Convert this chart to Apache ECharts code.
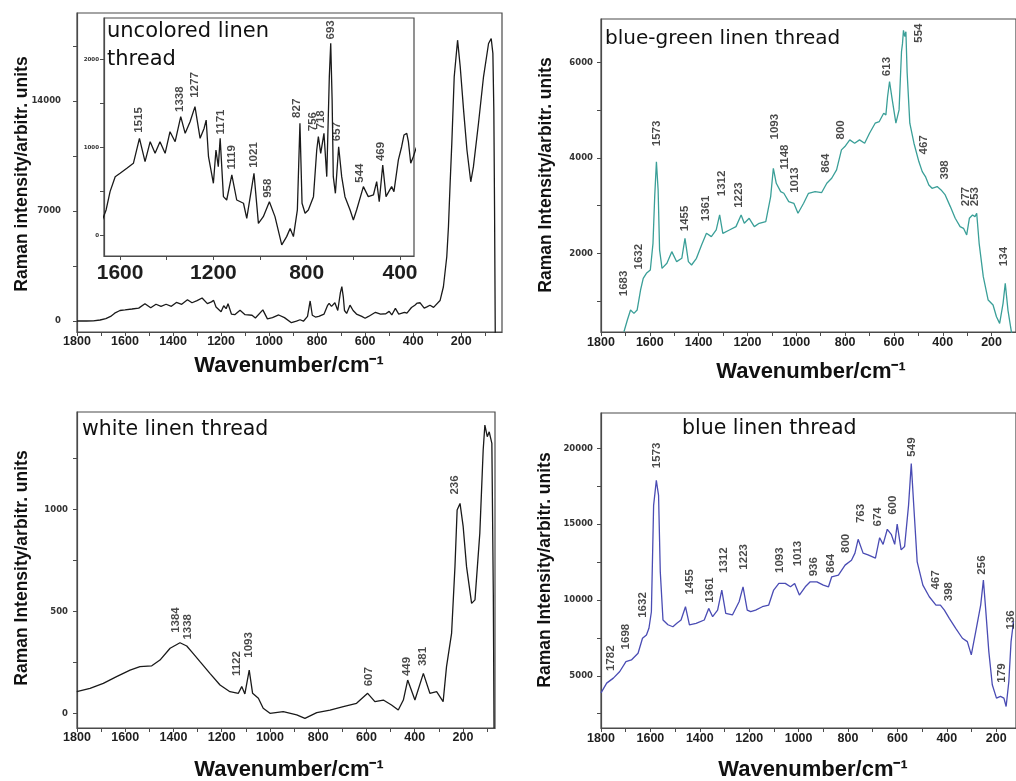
<!DOCTYPE html>
<html><head><meta charset="utf-8">
<script src="https://cdn.jsdelivr.net/npm/echarts@6/dist/echarts.min.js"></script>
<style>html,body{margin:0;padding:0;background:#fff}#c{width:1016px;height:781px}</style>
</head><body><div id="c"></div>
<script>
// ---------- uncolored linen thread (main + inset share the same spectrum) ----------
const uncoloredWn = [1800,1760,1732,1704,1680,1660,1643,1621,1600,1571,1543,1517,1493,1471,1450,1429,1407,1386,1364,1340,1321,1300,1279,1257,1240,1231,1221,1200,1189,1179,1171,1157,1143,1121,1100,1071,1057,1026,1007,986,960,936,907,886,871,857,840,829,820,807,793,771,757,750,740,726,714,703,697,691,686,677,663,650,636,614,600,586,557,536,514,500,489,474,460,436,426,407,393,383,371,364,354,343,330,315,288,274,260,253,246,239,229,215,204,190,176,160,149,128,107,86,75,68,64,61,58];
const uncoloredI  = [0,0,5,64,150,290,498,668,706,763,820,1103,839,1065,933,1065,933,1179,1065,1349,1160,1292,1463,1103,1216,1311,895,593,971,782,1103,441,403,687,403,366,195,706,138,214,384,214,-106,-13,80,-13,290,1274,366,252,290,441,971,1122,933,1160,668,1804,2183,1539,668,479,1008,668,441,290,176,290,555,441,460,612,384,801,441,555,498,858,1008,1141,1160,1065,820,895,1000,870,1300,2180,4090,6000,8760,11320,15540,17870,16180,13420,10880,8860,9820,12570,15540,17660,17980,17030,13420,7060,-1000];

// ---------- blue-green linen thread ----------
const blueGreenWn = [1706,1692,1679,1665,1652,1638,1627,1614,1598,1587,1580,1573,1566,1560,1550,1530,1510,1490,1469,1456,1442,1429,1409,1388,1368,1348,1328,1314,1301,1274,1247,1226,1213,1193,1172,1152,1125,1105,1094,1082,1064,1051,1031,1010,993,970,950,923,896,875,855,835,815,801,781,761,741,720,700,677,660,642,633,626,618,608,592,579,569,565,561,556,551,546,535,518,498,484,471,457,444,423,407,390,369,349,329,315,302,291,278,268,261,251,234,214,194,180,167,153,144,133,120,110];
const blueGreenI  = [355,600,810,740,810,1230,1475,1580,1650,2210,3190,3923,3330,2070,1685,1790,2035,1825,1895,2315,1825,1755,1895,2175,2420,2350,2490,2805,2420,2490,2560,2805,2630,2735,2560,2630,2665,3190,3785,3470,3295,3260,3085,3050,2840,3050,3260,3295,3275,3470,3575,3750,4170,4240,4380,4310,4380,4310,4520,4730,4765,4940,4905,5290,5605,5255,4730,5010,6235,6400,6680,6550,6650,5800,4730,4310,3925,3715,3610,3435,3365,3400,3330,3225,2980,2735,2560,2525,2385,2735,2805,2770,2840,2210,1510,1020,915,670,530,950,1370,810,390,100];

// ---------- white linen thread ----------
const whiteWn = [1801,1746,1691,1636,1580,1539,1490,1456,1414,1373,1345,1325,1290,1249,1207,1166,1131,1117,1104,1086,1072,1048,1028,1000,945,889,855,806,751,696,641,595,565,530,496,468,447,429,399,364,337,309,282,268,247,233,224,212,199,185,164,150,130,116,109,99,91,80,74,71];
const whiteI  = [106,122,147,180,212,229,233,261,319,346,330,302,253,196,139,106,98,131,95,212,98,74,25,0,8,-8,-25,3,16,33,49,98,57,65,41,16,65,163,65,196,98,106,57,229,392,719,997,1029,916,719,539,556,882,1291,1413,1356,1380,1323,588,-72];

// ---------- blue linen thread ----------
const blueWn = [1800,1795,1777,1750,1724,1699,1677,1650,1632,1616,1606,1596,1587,1576,1567,1560,1549,1529,1509,1493,1476,1458,1442,1415,1382,1364,1348,1328,1311,1295,1268,1241,1225,1208,1194,1174,1147,1121,1101,1080,1054,1033,1016,997,973,953,926,900,879,866,839,812,786,772,759,739,719,689,672,658,641,625,611,601,585,571,555,544,534,520,497,471,444,426,410,390,364,337,317,301,283,263,252,243,230,216,199,183,169,160,149,140,130];
const blueI  = [3880,3970,4520,4850,5285,5940,6050,6490,7480,7700,8135,9230,16250,17900,16910,11860,8685,8370,8240,8465,8685,9560,8370,8465,8685,9450,8905,9340,10660,9125,9015,9890,10875,9340,9235,9340,9560,9670,10660,11100,11100,10875,11100,10330,10875,11205,11205,10985,10875,11535,11640,12305,12630,13095,14010,13095,12985,12765,14115,13675,14670,14340,13675,15010,13310,13530,16250,19000,16250,12520,10985,10220,9670,9670,9340,8795,8135,7480,7260,6380,7920,9670,11315,9450,6600,4410,3530,3640,3530,2980,4630,7260,8600];

// ---------- peak annotations: [text, wavenumber, intensity at label foot] ----------
const peaksInset = [['1515',1517,1161],['1338',1340,1397],['1277',1279,1558],['1171',1168,1141],['1119',1117,744],['1021',1026,763],['958',964,422],['827',840,1330],['756',771,1179],['718',736,1198],['693',693,2221],['657',668,1065],['544',569,593],['469',479,839]];
const peaksBlueGreen = [['1683',1706,1090],['1632',1645,1650],['1573',1570,4238],['1455',1456,2453],['1361',1368,2663],['1312',1301,3188],['1223',1233,2944],['1093',1085,4378],['1148',1044,3748],['1013',1004,3259],['864',876,3679],['800',815,4378],['613',626,5707],['554',497,6408],['467',477,4063],['398',390,3539],['277',302,2978],['253',268,2978],['134',147,1720]];
const peaksWhite = [['1384',1390,392],['1338',1339,359],['1122',1136,180],['1093',1086,270],['607',586,130],['449',431,180],['381',365,229],['236',233,1070]];
const peaksBlue = [['1782',1757,5283],['1698',1697,6711],['1632',1627,8796],['1573',1570,18665],['1455',1439,10329],['1361',1359,9783],['1312',1301,11757],['1223',1221,11974],['1093',1074,11757],['1013',1000,12191],['936',937,11533],['864',866,11757],['800',806,13072],['763',745,15046],['674',678,14822],['600',618,15592],['549',538,19428],['467',444,10658],['398',390,9888],['256',256,11645],['179',176,4519],['136',138,8026]];

// ---------- tick values ----------
const xTicks100 = [100,200,300,400,500,600,700,800,900,1000,1100,1200,1300,1400,1500,1600,1700,1800];
const xLabels200 = [200,400,600,800,1000,1200,1400,1600,1800];
const insetXTicks = [400,600,800,1000,1200,1400,1600];
const insetXLabels = [400,800,1200,1600];
const yTicksA = [0,3500,7000,10500,14000,17500];
const yLabelsA = [0,7000,14000];
const yTicksInset = [0,500,1000,1500,2000];
const yLabelsInset = [0,1000,2000];
const yTicksB = [1000,2000,3000,4000,5000,6000];
const yLabelsB = [2000,4000,6000];
const yTicksC = [0,250,500,750,1000,1250];
const yLabelsC = [0,500,1000];
const yTicksD = [2500,5000,7500,10000,12500,15000,17500,20000];
const yLabelsD = [5000,10000,15000,20000];

const frame = '#4a4a4a';
const pairs = (xs, ys) => xs.map((x, i) => [x, ys[i]]);
const plain = v => String(v);

function xAx(gi, min, max, ticks, labels, fs, margin) {
  return {type:'value', gridIndex:gi, inverse:true, min, max,
    axisLine:{show:true, onZero:false, lineStyle:{color:frame, width:1.2}},
    axisTick:{show:true, inside:false, length:4, customValues:ticks, lineStyle:{color:frame, width:1}},
    axisLabel:{show:true, customValues:labels, formatter:plain, fontSize:fs, fontWeight:'bold', fontFamily:'Liberation Sans', color:'#1e1e1e', margin},
    splitLine:{show:false}};
}
function yAx(gi, min, max, ticks, labels, fs, margin) {
  return {type:'value', gridIndex:gi, min, max,
    axisLine:{show:true, onZero:false, lineStyle:{color:frame, width:1.2}},
    axisTick:{show:true, inside:false, length:4, customValues:ticks, lineStyle:{color:frame, width:1}},
    axisLabel:{show:true, customValues:labels, formatter:plain, fontSize:fs, fontWeight:'bold', fontFamily:'DejaVu Sans', color:'#333', margin},
    splitLine:{show:false}};
}
function lineS(i, data, color) {
  return {type:'line', xAxisIndex:i, yAxisIndex:i, data, showSymbol:false, symbol:'none', clip:true,
    lineStyle:{color, width:1.3}, silent:true, animation:false};
}
function peakS(i, arr) {
  return {type:'scatter', xAxisIndex:i, yAxisIndex:i, symbolSize:1, silent:true, clip:false, z:5, animation:false,
    itemStyle:{color:'rgba(0,0,0,0)'},
    data: arr.map(p => ({name:p[0], value:[p[1], p[2]]})),
    label:{show:true, formatter:'{b}', rotate:90, position:[0,0], align:'left', verticalAlign:'middle',
      fontSize:11.5, fontWeight:'bold', fontFamily:'Liberation Sans', color:'#1a1a1a'}};
}
function txt(x, y, text, font, rot, align) {
  return {type:'text', x, y, rotation:rot||0, z:100,
    style:{text, font, fill:'#111', align:align||'center', textAlign:align||'center', verticalAlign:'middle', textVerticalAlign:'middle'}};
}

const chart = echarts.init(document.getElementById('c'), null, {renderer:'canvas'});
chart.setOption({
  animation:false,
  backgroundColor:'#fff',
  grid:[
    {left:77, top:13, width:425, height:319, show:true, borderColor:frame, borderWidth:1.2, backgroundColor:'#fff'},
    {left:104, top:18, width:310, height:238, show:true, borderColor:frame, borderWidth:1.2, backgroundColor:'#fff', z:3},
    {left:601, top:19, width:419, height:313, show:true, borderColor:frame, borderWidth:1.2},
    {left:77, top:412, width:418, height:316, show:true, borderColor:frame, borderWidth:1.2},
    {left:601, top:413, width:418, height:315, show:true, borderColor:frame, borderWidth:1.2}
  ],
  xAxis:[
    xAx(0, 30, 1800, xTicks100, xLabels200, 12.5, 3),
    Object.assign(xAx(1, 340, 1669, insetXTicks, insetXLabels, 21, 7), {z:4}),
    xAx(2, 100, 1800, xTicks100, xLabels200, 12.5, 4),
    xAx(3, 67, 1800, xTicks100, xLabels200, 12.5, 3),
    xAx(4, 120, 1800, xTicks100, xLabels200, 12.5, 4)
  ],
  yAxis:[
    yAx(0, -700, 19600, yTicksA, yLabelsA, 8.5, 16),
    Object.assign(yAx(1, -233, 2470, yTicksInset, yLabelsInset, 5.5, 5), {z:4}),
    yAx(2, 349, 6917, yTicksB, yLabelsB, 8.5, 8),
    yAx(3, -72, 1477, yTicksC, yLabelsC, 8.5, 9),
    yAx(4, 1559, 22342, yTicksD, yLabelsD, 8.5, 8)
  ],
  series:[
    lineS(0, pairs(uncoloredWn, uncoloredI), '#1a1a1a'),
    Object.assign(lineS(1, pairs(uncoloredWn, uncoloredI), '#1a1a1a'), {z:6}),
    Object.assign(peakS(1, peaksInset), {z:7}),
    lineS(2, pairs(blueGreenWn, blueGreenI), '#3a9f98'),
    peakS(2, peaksBlueGreen),
    lineS(3, pairs(whiteWn, whiteI), '#1a1a1a'),
    peakS(3, peaksWhite),
    lineS(4, pairs(blueWn, blueI), '#4a4cb4'),
    peakS(4, peaksBlue)
  ],
  graphic:[
    txt(107, 32, 'uncolored linen', '21px "DejaVu Sans"', 0, 'left'),
    txt(107, 60, 'thread', '21px "DejaVu Sans"', 0, 'left'),
    txt(605, 39, 'blue-green linen thread', '20px "DejaVu Sans"', 0, 'left'),
    txt(82, 430, 'white linen thread', '20.5px "DejaVu Sans"', 0, 'left'),
    txt(682, 429, 'blue linen thread', '20.5px "DejaVu Sans"', 0, 'left'),
    txt(289, 366, 'Wavenumber/cm\u207B\u00B9', 'bold 22px "Liberation Sans"'),
    txt(811, 372, 'Wavenumber/cm\u207B\u00B9', 'bold 22px "Liberation Sans"'),
    txt(289, 770, 'Wavenumber/cm\u207B\u00B9', 'bold 22px "Liberation Sans"'),
    txt(813, 770, 'Wavenumber/cm\u207B\u00B9', 'bold 22px "Liberation Sans"'),
    txt(22, 174, 'Raman intensity/arbitr. units', 'bold 17.5px "Liberation Sans"', Math.PI/2),
    txt(546, 175, 'Raman Intensity/arbitr. units', 'bold 17.5px "Liberation Sans"', Math.PI/2),
    txt(22, 568, 'Raman Intensity/arbitr. units', 'bold 17.5px "Liberation Sans"', Math.PI/2),
    txt(545, 570, 'Raman Intensity/arbitr. units', 'bold 17.5px "Liberation Sans"', Math.PI/2)
  ]
});
</script></body></html>
